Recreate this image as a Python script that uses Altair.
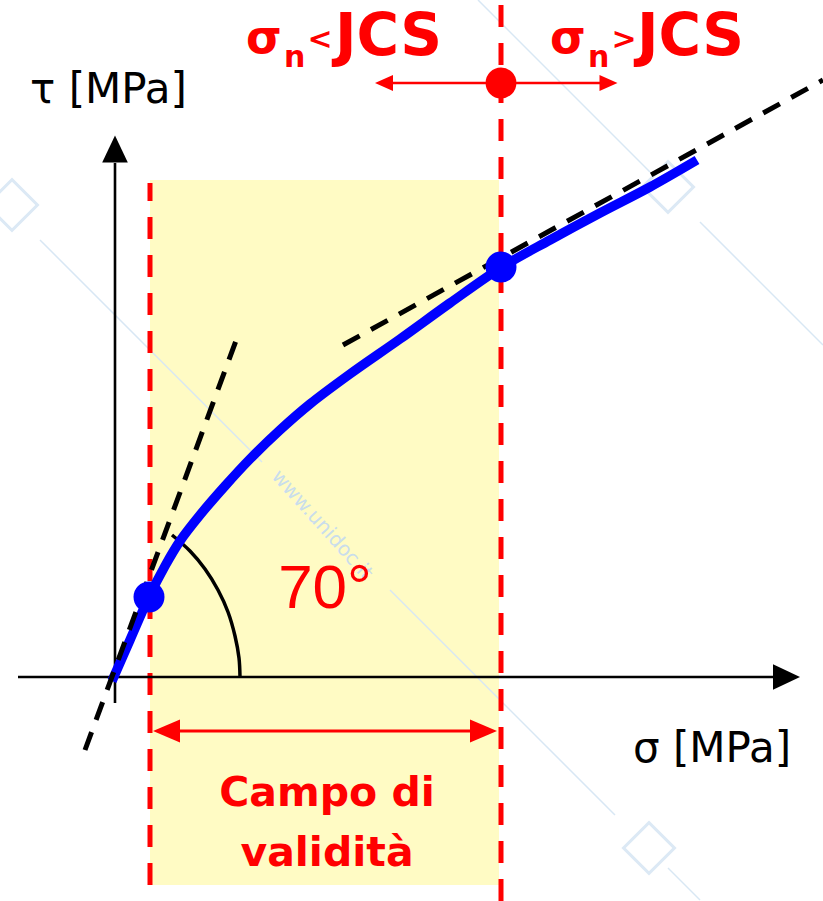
import altair as alt
import pandas as pd

# Diagram frame: sigma (x) and tau (y) in diagram units, origin at the axes crossing
X_DOMAIN = [-11.5, 70.8]
Y_DOMAIN = [-22.4, 67.7]

RED = "#FF0000"
BLUE = "#0000FF"

# Shear strength envelope (Barton curve)
curve_sigma = [-0.3, 1.5, 3.4, 5.0, 6.5, 8.5, 11.0, 13.5, 16.5, 19.5, 23.5,
               28.5, 33.5, 38.7, 43.5, 48.5, 53.5, 58.2]
curve_tau = [-0.4, 3.7, 8.0, 11.1, 13.6, 16.2, 19.1, 21.8, 24.7, 27.3, 30.3,
             33.8, 37.4, 41.0, 43.7, 46.4, 49.0, 51.7]

# Marked points on the envelope (lower limit and sigma_n = JCS)
dot_sigma = [3.4, 38.6]
dot_tau = [8.0, 41.0]

# Tangent lines (70 deg at the origin, and at sigma_n = JCS)
tangent_sigma = [-3.0, 22.8]
tangent_sigma2 = [12.2, 70.8]
tangent_tau = [-7.3, 33.2]
tangent_tau2 = [33.9, 59.7]

# 70 deg angle arc
arc_sigma = [5.7, 7.5, 9.0, 10.3, 11.3, 12.0, 12.4, 12.5]
arc_tau = [14.2, 12.6, 10.8, 8.7, 6.5, 4.1, 1.9, 0.0]

# Validity field limits
field_sigma = [3.5, 38.4]
field_tau = [-20.8, 49.7]
limit_sigma = [3.5, 38.6]
limit_tau_lo = [-20.8, -22.4]
limit_tau_hi = [49.4, 67.7]

# Axes
axis_sigma = [-9.7, 0.0]
axis_sigma2 = [65.8, 0.0]
axis_tau = [0.0, -2.6]
axis_tau2 = [0.0, 51.4]
head_right = (67.15, 0.0)
head_up = (0.0, 52.8)

# sigma_n vs JCS arrow (top) and validity-range arrow (bottom)
jcs_arrow = {"x": 27.8, "x2": 48.5, "y": 59.4}
jcs_heads_sigma = [26.9, 49.35]
jcs_dot = (38.6, 59.4)
range_arrow = {"x": 5.1, "x2": 36.9, "y": -5.4}
range_heads_sigma = [5.15, 36.85]

# Watermark
mark_sigma = [36.3, 58.5, -7.5, 27.5, 55.3]
mark_sigma2 = [53.5, 70.8, 14.7, 50.0, 58.5]
mark_tau = [67.7, 45.5, 43.7, 8.7, -19.1]
mark_tau2 = [50.5, 33.2, 21.5, -13.8, -22.3]
logo_sigma = [-10.3, 55.3, 53.4]
logo_tau = [47.2, 49.0, -17.1]

X = alt.X("x:Q", scale=alt.Scale(domain=X_DOMAIN, nice=False, zero=False), axis=None)
Y = alt.Y("y:Q", scale=alt.Scale(domain=Y_DOMAIN, nice=False, zero=False), axis=None)


def points(xs, ys):
    return pd.DataFrame({"x": xs, "y": ys, "i": list(range(len(xs)))})


def segments(xs, ys, x2s, y2s):
    return pd.DataFrame({"x": xs, "y": ys, "x2": x2s, "y2": y2s})


def seg_layer(df, **mark):
    return alt.Chart(df).mark_rule(**mark).encode(x=X, y=Y, x2="x2:Q", y2="y2:Q")


def text_layer(df, **mark):
    return alt.Chart(df).mark_text(**mark).encode(x=X, y=Y, text="t:N")


def head_layer(df, shape, size, color):
    return alt.Chart(df).mark_point(
        shape=shape, size=size, filled=True, color=color, opacity=1, strokeWidth=0
    ).encode(x=X, y=Y)


field = alt.Chart(pd.DataFrame({"x": [field_sigma[0]], "x2": [field_sigma[1]],
                                "y": [field_tau[0]], "y2": [field_tau[1]]})).mark_rect(
    color="#FFFBC4", opacity=1).encode(x=X, x2="x2:Q", y=Y, y2="y2:Q")

watermark_lines = seg_layer(segments(mark_sigma, mark_tau, mark_sigma2, mark_tau2),
                            color="#D8E7F4", strokeWidth=1.5)
watermark_logos = alt.Chart(points(logo_sigma, logo_tau)).mark_point(
    shape="square", angle=45, size=1300, filled=False, color="#DCE9F5",
    strokeWidth=3, opacity=1).encode(x=X, y=Y)
watermark_text = text_layer(pd.DataFrame({"x": [20.7], "y": [15.2], "t": ["www.unidoc.it"]}),
                            font="DejaVu Sans", fontSize=20, angle=48, color="#C9DDEC",
                            align="center", baseline="middle")

limits = seg_layer(segments(limit_sigma, limit_tau_lo, limit_sigma, limit_tau_hi),
                   color=RED, strokeWidth=5, strokeDash=[22, 16])

axes = seg_layer(segments(axis_sigma, axis_tau, axis_sigma2, axis_tau2),
                 color="black", strokeWidth=2.6)
axis_head_r = head_layer(points([head_right[0]], [head_right[1]]),
                         "M-1,-0.95L1,0L-1,0.95Z", 729, "black")
axis_head_u = head_layer(points([head_up[0]], [head_up[1]]),
                         "M-0.95,1L0,-1L0.95,1Z", 729, "black")

tangents = seg_layer(segments(tangent_sigma, tangent_tau, tangent_sigma2, tangent_tau2),
                     color="black", strokeWidth=5, strokeDash=[19, 13])

arc = alt.Chart(points(arc_sigma, arc_tau)).mark_line(
    color="black", strokeWidth=3.5, interpolate="catmull-rom").encode(x=X, y=Y, order="i:Q")

curve = alt.Chart(points(curve_sigma, curve_tau)).mark_line(
    color=BLUE, strokeWidth=9.5, interpolate="catmull-rom", strokeCap="butt").encode(
    x=X, y=Y, order="i:Q")

dots = alt.Chart(points(dot_sigma, dot_tau)).mark_circle(
    color=BLUE, size=960, opacity=1).encode(x=X, y=Y)

jcs_line = seg_layer(pd.DataFrame([jcs_arrow]).assign(y2=jcs_arrow["y"]),
                     color=RED, strokeWidth=2.6)
jcs_head_l = head_layer(points([jcs_heads_sigma[0]], [jcs_arrow["y"]]),
                        "M1,-0.9L-1,0L1,0.9Z", 324, RED)
jcs_head_r = head_layer(points([jcs_heads_sigma[1]], [jcs_arrow["y"]]),
                        "M-1,-0.9L1,0L-1,0.9Z", 324, RED)
jcs_point = alt.Chart(points([jcs_dot[0]], [jcs_dot[1]])).mark_circle(
    color=RED, size=950, opacity=1).encode(x=X, y=Y)

range_line = seg_layer(pd.DataFrame([range_arrow]).assign(y2=range_arrow["y"]),
                       color=RED, strokeWidth=3)
range_head_l = head_layer(points([range_heads_sigma[0]], [range_arrow["y"]]),
                          "M1,-0.85L-1,0L1,0.85Z", 729, RED)
range_head_r = head_layer(points([range_heads_sigma[1]], [range_arrow["y"]]),
                          "M-1,-0.85L1,0L-1,0.85Z", 729, RED)

# Labels
axis_labels = text_layer(pd.DataFrame({"x": [-8.5, 51.8], "y": [57.4, -8.5],
                                       "t": ["τ [MPa]", "σ [MPa]"]}),
                         font="DejaVu Sans", fontSize=42, color="black",
                         align="left", baseline="alphabetic")
angle_label = text_layer(pd.DataFrame({"x": [21.0], "y": [6.9], "t": ["70°"]}),
                         font="Liberation Sans", fontSize=62, color=RED,
                         align="center", baseline="alphabetic")
field_label = text_layer(pd.DataFrame({"x": [21.2, 21.2], "y": [-12.9, -18.9],
                                       "t": ["Campo di", "validità"]}),
                         font="DejaVu Sans", fontWeight="bold", fontSize=41, color=RED,
                         align="center", baseline="alphabetic")
sig_label = text_layer(pd.DataFrame({"x": [13.1, 43.5], "y": [62.4, 62.4], "t": ["σ", "σ"]}),
                       font="DejaVu Sans", fontWeight="bold", fontSize=46, color=RED,
                       align="left", baseline="alphabetic")
sub_label = text_layer(pd.DataFrame({"x": [16.9, 47.3], "y": [61.0, 61.0], "t": ["n", "n"]}),
                       font="DejaVu Sans", fontWeight="bold", fontSize=30, color=RED,
                       align="left", baseline="alphabetic")
cmp_label = text_layer(pd.DataFrame({"x": [20.5, 50.9], "y": [62.8, 62.8], "t": ["<", ">"]}),
                       font="DejaVu Sans", fontWeight="bold", fontSize=30, color=RED,
                       align="center", baseline="alphabetic")
jcs_label = text_layer(pd.DataFrame({"x": [22.0, 52.2], "y": [62.2, 62.2], "t": ["JCS", "JCS"]}),
                       font="DejaVu Sans", fontWeight="bold", fontSize=58, color=RED,
                       align="left", baseline="alphabetic")

chart = alt.layer(
    field, watermark_lines, watermark_logos, watermark_text,
    limits, axes, axis_head_r, axis_head_u,
    arc, curve, tangents, dots,
    jcs_line, jcs_head_l, jcs_head_r, jcs_point,
    range_line, range_head_l, range_head_r,
    axis_labels, angle_label, field_label,
    sig_label, sub_label, cmp_label, jcs_label,
).properties(
    width=823, height=901, padding=0,
    autosize=alt.AutoSizeParams(type="none"),
    background="white",
).configure_view(stroke=None)

chart.save("out.html", embed_options={"renderer": "svg", "actions": False})
